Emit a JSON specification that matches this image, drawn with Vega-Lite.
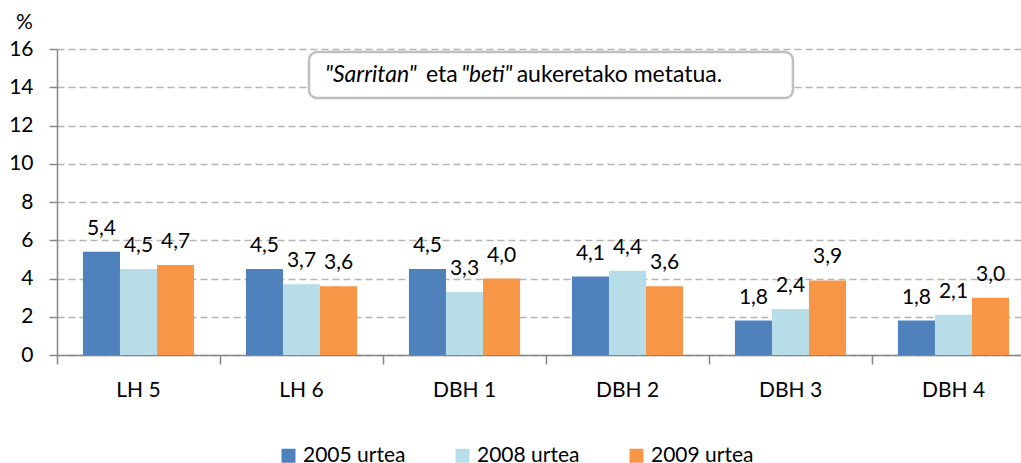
{
  "$schema": "https://vega.github.io/schema/vega-lite/v6.json",
  "width": 964,
  "height": 306,
  "autosize": "none",
  "padding": {"left": 57, "top": 49, "right": 0, "bottom": 108},
  "background": "white",
  "config": {
    "view": {"stroke": null},
    "font": "Lato",
    "locale": {"number": {"decimal": ",", "thousands": ".", "grouping": [3], "currency": ["", " €"]}}
  },
  "data": {
    "values": [
      {"maila": "LH 5", "urtea": "2005 urtea", "balioa": 5.4},
      {"maila": "LH 5", "urtea": "2008 urtea", "balioa": 4.5},
      {"maila": "LH 5", "urtea": "2009 urtea", "balioa": 4.7},
      {"maila": "LH 6", "urtea": "2005 urtea", "balioa": 4.5},
      {"maila": "LH 6", "urtea": "2008 urtea", "balioa": 3.7},
      {"maila": "LH 6", "urtea": "2009 urtea", "balioa": 3.6},
      {"maila": "DBH 1", "urtea": "2005 urtea", "balioa": 4.5},
      {"maila": "DBH 1", "urtea": "2008 urtea", "balioa": 3.3},
      {"maila": "DBH 1", "urtea": "2009 urtea", "balioa": 4.0},
      {"maila": "DBH 2", "urtea": "2005 urtea", "balioa": 4.1},
      {"maila": "DBH 2", "urtea": "2008 urtea", "balioa": 4.4},
      {"maila": "DBH 2", "urtea": "2009 urtea", "balioa": 3.6},
      {"maila": "DBH 3", "urtea": "2005 urtea", "balioa": 1.8},
      {"maila": "DBH 3", "urtea": "2008 urtea", "balioa": 2.4},
      {"maila": "DBH 3", "urtea": "2009 urtea", "balioa": 3.9},
      {"maila": "DBH 4", "urtea": "2005 urtea", "balioa": 1.8},
      {"maila": "DBH 4", "urtea": "2008 urtea", "balioa": 2.1},
      {"maila": "DBH 4", "urtea": "2009 urtea", "balioa": 3.0}
    ]
  },
  "layer": [
    {
      "encoding": {
        "x": {
          "field": "maila", "type": "nominal", "sort": null,
          "scale": {"paddingInner": 0, "paddingOuter": 0, "range": [0, 978]},
          "axis": {
            "title": null, "bandPosition": 0, "labelAngle": 0,
            "tickSize": 9, "tickColor": "#868686", "tickWidth": 1.5,
            "domainColor": "#868686", "domainWidth": 1.5,
            "labelFont": "Lato", "labelFontSize": 21, "labelColor": "#000000",
            "labelPadding": 15, "grid": false, "labelOverlap": false
          }
        },
        "xOffset": {"field": "urtea", "type": "nominal", "scale": {"paddingInner": 0, "paddingOuter": 0.7}},
        "y": {
          "field": "balioa", "type": "quantitative",
          "scale": {"domain": [0, 16], "nice": false},
          "axis": {
            "values": [0, 2, 4, 6, 8, 10, 12, 14, 16],
            "labelOverlap": false,
            "title": "%", "titleAngle": 0, "titleAlign": "center", "titleBaseline": "middle",
            "titleX": -33, "titleY": -27, "titleFont": "Lato", "titleFontSize": 21, "titleFontWeight": "normal", "titleColor": "#000000",
            "tickSize": 8, "tickColor": "#868686", "tickWidth": 1.5,
            "domainColor": "#868686", "domainWidth": 1.5,
            "labelFont": "Lato", "labelFontSize": 21, "labelColor": "#000000", "labelPadding": 16,
            "grid": true, "gridColor": "#B4B4B4", "gridDash": [7, 4], "gridWidth": 1.5
          }
        }
      },
      "layer": [
        {
          "mark": {"type": "bar"},
          "encoding": {
            "color": {
              "field": "urtea", "type": "nominal",
              "scale": {"domain": ["2005 urtea", "2008 urtea", "2009 urtea"], "range": ["#4F81BD", "#B7DDE8", "#F79646"]},
              "legend": {
                "title": null, "orient": "none", "direction": "horizontal",
                "legendX": 221, "legendY": 396,
                "symbolType": "square", "symbolSize": 196, "symbolStrokeWidth": 0,
                "labelFont": "Lato", "labelFontSize": 21, "labelColor": "#000000",
                "labelOffset": 4, "columnPadding": 46
              }
            }
          }
        },
        {
          "mark": {"type": "text", "baseline": "alphabetic", "dy": -17, "font": "Lato", "fontSize": 21, "color": "#000000"},
          "encoding": {
            "text": {"field": "balioa", "type": "quantitative", "format": ".1f"}
          }
        }
      ]
    },
    {
      "data": {"values": [{}]},
      "layer": [
        {
          "mark": {"type": "rect", "fill": "white", "stroke": "#BFBFBF", "strokeWidth": 2.5, "cornerRadius": 8},
          "encoding": {
            "x": {"datum": 1.546, "type": "quantitative", "scale": {"domain": [0, 6], "range": [0, 978]}, "axis": null},
            "x2": {"datum": 4.515},
            "y": {"datum": 15.84, "type": "quantitative", "axis": null},
            "y2": {"datum": 13.44}
          }
        },
        {
          "mark": {"type": "text", "text": "\"Sarritan\"", "fontStyle": "italic", "align": "left", "baseline": "alphabetic", "font": "Lato", "fontSize": 23, "color": "#000000"},
          "encoding": {
            "x": {"datum": 1.644, "type": "quantitative", "scale": {"domain": [0, 6], "range": [0, 978]}, "axis": null},
            "y": {"datum": 14.26, "type": "quantitative", "axis": null}
          }
        },
        {
          "mark": {"type": "text", "text": "eta", "align": "left", "baseline": "alphabetic", "font": "Lato", "fontSize": 23, "color": "#000000"},
          "encoding": {
            "x": {"datum": 2.264, "type": "quantitative", "scale": {"domain": [0, 6], "range": [0, 978]}, "axis": null},
            "y": {"datum": 14.26, "type": "quantitative", "axis": null}
          }
        },
        {
          "mark": {"type": "text", "text": "\"beti\"", "fontStyle": "italic", "align": "left", "baseline": "alphabetic", "font": "Lato", "fontSize": 22.5, "color": "#000000"},
          "encoding": {
            "x": {"datum": 2.48, "type": "quantitative", "scale": {"domain": [0, 6], "range": [0, 978]}, "axis": null},
            "y": {"datum": 14.26, "type": "quantitative", "axis": null}
          }
        },
        {
          "mark": {"type": "text", "text": "aukeretako metatua.", "align": "left", "baseline": "alphabetic", "font": "Lato", "fontSize": 23, "color": "#000000"},
          "encoding": {
            "x": {"datum": 2.82, "type": "quantitative", "scale": {"domain": [0, 6], "range": [0, 978]}, "axis": null},
            "y": {"datum": 14.26, "type": "quantitative", "axis": null}
          }
        }
      ]
    }
  ],
  "resolve": {"scale": {"x": "independent"}, "axis": {"y": "independent"}}
}
